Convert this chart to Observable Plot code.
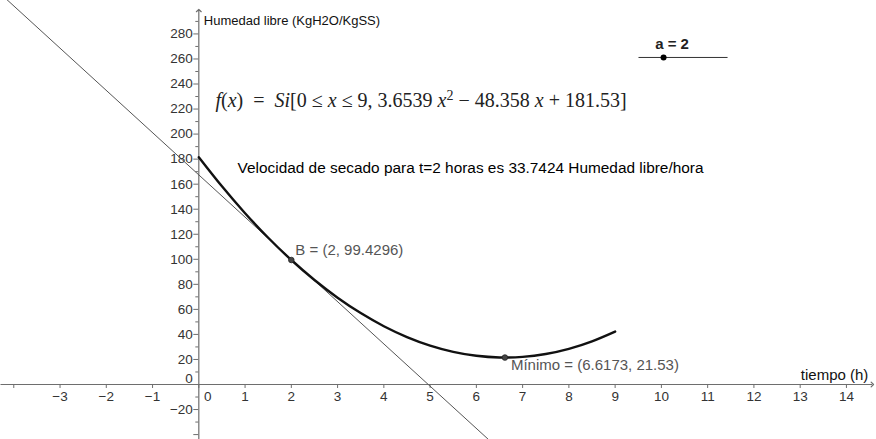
<!DOCTYPE html>
<html><head><meta charset="utf-8">
<script src="https://cdn.jsdelivr.net/npm/d3@7"></script>
<script src="https://cdn.jsdelivr.net/npm/@observablehq/plot@0.6"></script>
<style>body{margin:0;background:#fff} svg{display:block}</style>
</head><body><div id="chart"></div>
<script>
// Curve f(x) (x = tiempo, y = humedad libre)
const tiempo  = [0, 0.5, 1, 1.5, 2, 2.5, 3, 3.5, 4, 4.5, 5, 5.5, 6, 6.5, 7, 7.5, 8, 8.5, 9];
const humedad = [181.53, 158.26, 136.83, 117.21, 99.43, 83.47, 69.34, 57.04, 46.56, 37.91, 31.09, 26.09, 22.92, 21.58, 22.07, 24.38, 28.52, 34.48, 42.28];
// Tangent line at B (endpoints read at picture edges)
const tangenteX = [-4.3, 6.3];
const tangenteY = [312.5, -45.2];
// Points
const puntosX = [2, 6.6173];
const puntosY = [99.4296, 21.53];
const puntosLabel = ["B = (2, 99.4296)", "Mínimo = (6.6173, 21.53)"];
// Slider a = 2
const sliderX = [9.505, 11.43];
const sliderY = 261.2;
const sliderValueX = 10.047;
const sliderText = "a = 2";
// Ticks
const xTicks = [-4, -3, -2, -1, 0, 1, 2, 3, 4, 5, 6, 7, 8, 9, 10, 11, 12, 13, 14];
const xLabels = [-3, -2, -1, 1, 2, 3, 4, 5, 6, 7, 8, 9, 10, 11, 12, 13, 14];
const yMajor = [-40, -20, 20, 40, 60, 80, 100, 120, 140, 160, 180, 200, 220, 240, 260, 280];
const yMinor = [-30, -10, 10, 30, 50, 70, 90, 110, 130, 150, 170, 190, 210, 230, 250, 270, 290];
const yLabels = [-20, 20, 40, 60, 80, 100, 120, 140, 160, 180, 200, 220, 240, 260, 280];
// Texts
const yTitle = "Humedad libre (KgH2O/KgSS)";
const xTitle = "tiempo (h)";
const formula = "f(x) = Si[0 ≤ x ≤ 9, 3.6539 x2 − 48.358 x + 181.53]";
const velocidad = "Velocidad de secado para t=2 horas es 33.7424 Humedad libre/hora";

const curve = tiempo.map((t, i) => ({t, h: humedad[i]}));
const tang = tangenteX.map((x, i) => ({x, y: tangenteY[i]}));
const pts = puntosX.map((x, i) => ({x, y: puntosY[i], label: puntosLabel[i]}));

const sans = "Liberation Sans, Arial, sans-serif";
const axisColor = "#6e6e6e";
const xDomain = [-4.287, 14.65], yDomain = [-43.93, 306.7];
const yPx = (yDomain[1] - yDomain[0]) / 439; // data units per pixel (vertical)
const xPx = (xDomain[1] - xDomain[0]) / 876;
const tickFont = 13.5;

const plot = Plot.plot({
  width: 876, height: 439,
  margin: 0,
  x: {domain: xDomain, axis: null},
  y: {domain: yDomain, axis: null},
  style: {background: "#fff", fontFamily: sans},
  marks: [
    // axes
    Plot.link([{}], {x1: xDomain[0], y1: 0, x2: 14.56, y2: 0, stroke: axisColor, strokeWidth: 1.2, markerEnd: "arrow"}),
    Plot.link([{}], {x1: 0, y1: yDomain[0], x2: 0, y2: 298.7, stroke: axisColor, strokeWidth: 1.2, markerEnd: "arrow"}),
    // x ticks
    Plot.ruleX(xTicks, {x: d => d, y1: 0, y2: -4 * yPx, stroke: axisColor}),
    // y ticks
    Plot.ruleY(yMajor, {y: d => d, x1: 0, x2: -5 * xPx, stroke: axisColor}),
    Plot.ruleY(yMinor, {y: d => d, x1: 0, x2: -3 * xPx, stroke: axisColor}),
    // tick labels
    Plot.text(xLabels, {x: d => d, y: 0, text: d => d < 0 ? "−" + Math.abs(d) : String(d), dy: 12, fontSize: tickFont, fill: "#333"}),
    Plot.text([0], {x: 0, y: 0, text: d => "0", dx: 9, dy: 12, fontSize: tickFont, fill: "#333"}),
    Plot.text(yLabels, {x: 0, y: d => d, text: d => d < 0 ? "−" + Math.abs(d) : String(d), dx: -6, textAnchor: "end", fontSize: tickFont, fill: "#333"}),
    Plot.text([0], {x: 0, y: 0, text: d => "0", dx: -6, dy: -6, textAnchor: "end", fontSize: tickFont, fill: "#333"}),
    // axis titles
    Plot.text([yTitle], {x: 0, y: 306.7, text: d => d, dx: 5, dy: 20, textAnchor: "start", fontSize: 13, fill: "#111"}),
    Plot.text([xTitle], {x: 14.56, y: 0, text: d => d, dx: -4, dy: -9, textAnchor: "end", fontSize: 15, fill: "#111"}),
    // tangent
    Plot.line(tang, {x: "x", y: "y", stroke: "#555", strokeWidth: 1, clip: true}),
    // curve
    Plot.line(curve, {x: "t", y: "h", stroke: "#111", strokeWidth: 2.4, curve: "natural"}),
    // points
    Plot.dot(pts, {x: "x", y: "y", r: 2.8, fill: "#444", stroke: "#222", strokeWidth: 0.8}),
    Plot.text([pts[0]], {x: "x", y: "y", text: "label", dx: 4, dy: -10, textAnchor: "start", fontSize: 15, fill: "#555"}),
    Plot.text([pts[1]], {x: "x", y: "y", text: "label", dx: 6, dy: 8, textAnchor: "start", fontSize: 15, fill: "#555"}),
    // formula and velocity text
    Plot.text([formula], {x: 0.36, y: 226.8, text: d => d, textAnchor: "start", fontSize: 20, fill: "#222", fontFamily: "Liberation Serif, Times New Roman, serif"}),
    Plot.text([velocidad], {x: 0.838, y: 172.5, text: d => d, textAnchor: "start", fontSize: 15.4, fill: "#000"}),
    // slider
    Plot.link([{}], {x1: sliderX[0], y1: sliderY, x2: sliderX[1], y2: sliderY, stroke: "#333", strokeWidth: 1}),
    Plot.dot([sliderValueX], {x: d => d, y: sliderY, r: 3, fill: "#000"}),
    Plot.text([sliderText], {x: 10.23, y: sliderY, text: d => d, dy: -13, fontSize: 15, fontWeight: "bold", fill: "#222"})
  ]
});

// Rich formatting of the formula (italic variables, superscript)
d3.select(plot).selectAll("text").each(function() {
  if (this.textContent === formula) {
    const t = d3.select(this);
    t.text(null);
    const parts = [
      ["f", "i"], ["(", "n"], ["x", "i"], [")  =  ", "n"], ["Si", "i"], ["[0 ≤ ", "n"], ["x", "i"],
      [" ≤ 9, 3.6539 ", "n"], ["x", "i"], ["2", "s"], [" − 48.358 ", "n"], ["x", "i"], [" + 181.53]", "n"]
    ];
    for (const [s, k] of parts) {
      const sp = t.append("tspan").text(s).attr("xml:space", "preserve").style("white-space", "pre");
      if (k === "i") sp.attr("font-style", "italic");
      if (k === "s") sp.attr("font-size", 14).attr("baseline-shift", "super");
    }
  }
});

document.getElementById("chart").appendChild(plot);
</script>
</body></html>
